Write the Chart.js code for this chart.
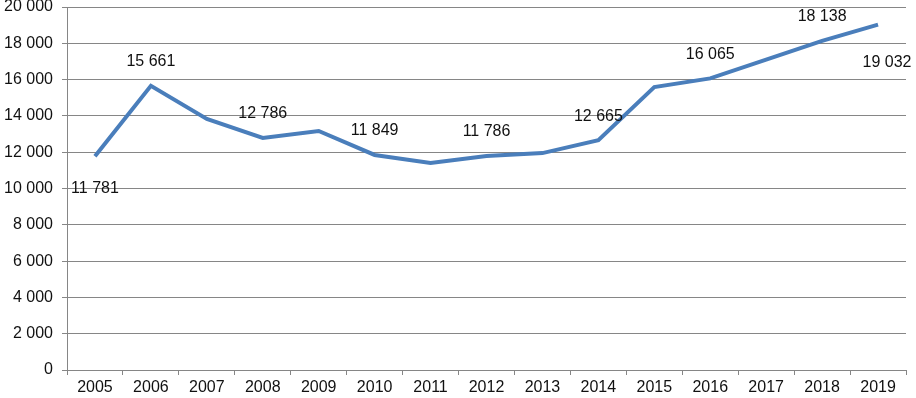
<!DOCTYPE html>
<html>
<head>
<meta charset="utf-8">
<script src="https://cdn.jsdelivr.net/npm/chart.js@4"></script>
<style>
  html, body { margin: 0; padding: 0; background: #fff; }
  #wrap { width: 916px; height: 398px; }
</style>
</head>
<body>
<div id="wrap"><canvas id="chart1"></canvas></div>
<script>
// years on the x axis
const years = ['2005', '2006', '2007', '2008', '2009', '2010', '2011', '2012',
               '2013', '2014', '2015', '2016', '2017', '2018', '2019'];
// values (labelled ones are exact)
const values = [11781, 15661, 13830, 12786, 13170, 11849, 11400, 11786,
                11950, 12665, 15590, 16065, 17100, 18138, 19032];
// which points carry a value label, and on which side of the line
const labelSide = ['below', 'above', null, 'above', null, 'above', null, 'above',
                   null, 'above', null, 'above', null, 'above', 'below'];

const fmt = v => String(v).replace(/\B(?=(\d{3})+(?!\d))/g, ' ');
const FONT = '"Liberation Sans", Arial, sans-serif';

// draws the value labels next to the points
const valueLabels = {
    id: 'valueLabels',
    afterDatasetsDraw(chart) {
        const ctx = chart.ctx;
        const meta = chart.getDatasetMeta(0);
        ctx.save();
        ctx.font = '16px ' + FONT;
        ctx.fillStyle = '#111';
        ctx.textAlign = 'center';
        ctx.textBaseline = 'middle';
        meta.data.forEach((pt, i) => {
            const side = labelSide[i];
            if (!side) return;
            let x = pt.x;
            let y = side == 'above' ? pt.y - 24 : pt.y + 32;
            if (i == values.length - 1) { y = pt.y + 38; x += 9; }
            ctx.fillText(fmt(values[i]), x, y);
        });
        ctx.restore();
    }
};

const data = {
    labels: years,
    datasets: [{
        data: values,
        borderColor: '#4A7EBB',
        borderWidth: 4,
        pointRadius: 0,
        tension: 0,
        fill: false
    }]
};

const options = {
    responsive: true,
    maintainAspectRatio: false,
    animation: false,
    layout: { padding: { left: 0, right: 10, top: 0, bottom: 0 } },
    plugins: {
        legend: { display: false },
        tooltip: { enabled: false }
    },
    scales: {
        x: {
            offset: true,
            grid: {
                offset: true,
                drawOnChartArea: false,
                drawTicks: true,
                tickLength: 5,
                color: '#868686'
            },
            border: { color: '#868686', width: 1 },
            ticks: {
                color: '#111',
                font: { family: FONT, size: 16 },
                padding: 3,
                maxRotation: 0,
                autoSkip: false
            },
            afterFit(scale) { scale.height = 28; }
        },
        y: {
            min: 0,
            max: 20000,
            afterFit(scale) {
                scale.width = 67;
                scale.paddingTop = 7;
                scale.paddingBottom = 0;
            },
            grid: {
                color: '#868686',
                tickLength: 5,
                lineWidth: 1
            },
            border: { color: '#868686', width: 1 },
            ticks: {
                stepSize: 2000,
                color: '#111',
                font: { family: FONT, size: 16 },
                padding: 9,
                callback: v => fmt(v)
            }
        }
    }
};

const ctx = document.getElementById('chart1').getContext('2d');
const myChart = new Chart(ctx, {
    type: 'line',
    data: data,
    options: options,
    plugins: [valueLabels]
});
</script>
</body>
</html>
